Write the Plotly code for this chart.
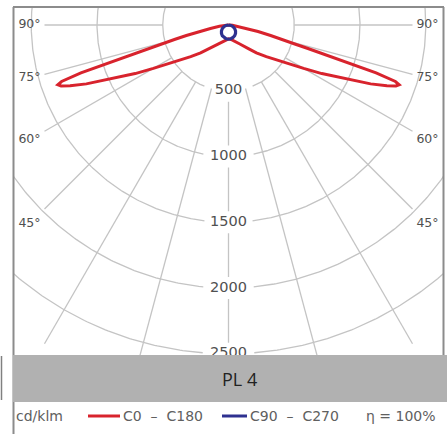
import numpy as np
import plotly.graph_objects as go

# ---------------- data (cd/klm vs angle from nadir, degrees) ----------------
angles_c0 = [0, 10, 20, 30, 40, 45, 50, 55, 57.5, 60, 62.5, 65, 67.5, 69, 70, 70.7,
             71.3, 72, 72.5, 73, 73.5, 74, 75, 76, 77.5, 79, 82, 86, 90]
c0_c180 = [105, 112, 130, 165, 235, 300, 375, 480, 560, 660, 800, 960, 1170, 1290, 1355, 1375,
           1340, 1180, 960, 780, 630, 530, 420, 330, 230, 140, 70, 30, 0]

angles_c90 = [0, 10, 20, 30, 40, 50, 60, 70, 80, 90]
c90_c270 = [108, 106, 101, 94, 83, 70, 54, 37, 19, 0]

ring_values = [500, 1000, 1500, 2000, 2500, 3000]
ring_labels = ["500", "1000", "1500", "2000", "2500"]
radial_angles = [0, 15, 30, 45, 60, 75, 90]
angle_tick_values = [90, 75, 60, 45]
angle_tick_labels = ["90°", "75°", "60°", "45°"]

title_text = "PL 4"
unit_text = "cd/klm"
series_names = ["C0 \u2013 C180", "C90 \u2013 C270"]
eta_text = "\u03b7 = 100%"

# ---------------- geometry / style ----------------
W, H = 447, 434
PL, PR, PT, PB = 13, 444, 7, 355
CX, CY = 228.5, 25.0
SCALE = 0.1315            # px per cd/klm
U = 1.0 / SCALE
GRID = "#c4c4c4"
TXT = "#505050"
LEG = "#606060"
RED = "#d8232d"
BLUE = "#2e3190"
FONT = "DejaVu Sans"
TITLE_FONT = "Open Sans"

xr = [(PL - CX) * U, (PR - CX) * U]
yr = [(CY - PB) * U, (CY - PT) * U]


def fx(px):
    return (px - PL) / (PR - PL)


def fy(py):
    return (PB - py) / (PB - PT)


fig = go.Figure()

# rings
gx, gy = [], []
phi = np.radians(np.arange(0, 360.5, 0.5))
gap = 24 * U
for i, r in enumerate(ring_values):
    x = r * np.sin(phi)
    y = -r * np.cos(phi)
    hole = (y < 0) & (np.abs(x) < gap) & (i < len(ring_labels))
    for xi, yi, h in zip(x, y, hole):
        if h:
            gx.append(None); gy.append(None)
        else:
            gx.append(float(xi)); gy.append(float(yi))
    gx.append(None); gy.append(None)

# radial lines
XCLIP = 184 * U
GV = 11 * U
for a in radial_angles:
    th = np.radians(a)
    if a == 0:
        bounds = ring_values[:len(ring_labels)] + [4000]
        for k in range(len(bounds) - 1):
            r0 = bounds[k] + GV
            r1 = bounds[k + 1] - GV if k + 1 < len(ring_labels) else bounds[k + 1]
            gx += [0.0, 0.0, None]
            gy += [-r0, -r1, None]
        continue
    rmax = min(4000, XCLIP / np.sin(th))
    for sg in (-1, 1):
        gx += [sg * 500 * np.sin(th), sg * rmax * np.sin(th), None]
        gy += [-500 * np.cos(th), -rmax * np.cos(th), None]

fig.add_trace(go.Scatter(x=gx, y=gy, mode="lines", line=dict(color=GRID, width=1.3),
                         hoverinfo="skip", showlegend=False))

# ring labels
fig.add_trace(go.Scatter(x=[0] * len(ring_labels), y=[-v for v in ring_values[:len(ring_labels)]],
                         mode="text", text=ring_labels,
                         textfont=dict(family=FONT, size=14.5, color=TXT),
                         hoverinfo="skip", showlegend=False))

# angle labels
LX = 199 * U
ax_, ay_, at_ = [], [], []
for a, t in zip(angle_tick_values, angle_tick_labels):
    th = np.radians(a)
    yv = -LX / np.tan(th) if a != 90 else 0.0
    for sg in (-1, 1):
        ax_.append(sg * LX); ay_.append(float(yv)); at_.append(t)
fig.add_trace(go.Scatter(x=ax_, y=ay_, mode="text", text=at_,
                         textfont=dict(family=FONT, size=12.5, color=TXT),
                         hoverinfo="skip", showlegend=False))


def curve(angles, vals):
    th = np.radians(np.array(angles, dtype=float))
    v = np.array(vals, dtype=float)
    xl = -(v * np.sin(th))[::-1]
    yl = -(v * np.cos(th))[::-1]
    xrr = v * np.sin(th)
    yrr = -v * np.cos(th)
    return np.concatenate([xl, xrr[1:]]), np.concatenate([yl, yrr[1:]])


x0, y0 = curve(angles_c0, c0_c180)
fig.add_trace(go.Scatter(x=x0, y=y0, mode="lines", line=dict(color=RED, width=3),
                         name=series_names[0], showlegend=False))
x1, y1 = curve(angles_c90, c90_c270)
fig.add_trace(go.Scatter(x=x1, y=y1, mode="lines", line=dict(color=BLUE, width=3.2),
                         name=series_names[1], showlegend=False))

LEG_Y = 416
shapes = [
    # frame
    dict(type="line", xref="paper", yref="paper", x0=fx(PL), x1=fx(PR), y0=fy(PT), y1=fy(PT),
         line=dict(color="#8c8c8c", width=2), layer="above"),
    dict(type="line", xref="paper", yref="paper", x0=fx(PL + 0.5), x1=fx(PL + 0.5), y0=fy(PT), y1=fy(H),
         line=dict(color="#8c8c8c", width=2), layer="above"),
    dict(type="line", xref="paper", yref="paper", x0=fx(PR - 0.5), x1=fx(PR - 0.5), y0=fy(PT), y1=fy(PB),
         line=dict(color="#8c8c8c", width=2), layer="above"),
    # band
    dict(type="rect", xref="paper", yref="paper", x0=fx(PL), x1=fx(W + 2), y0=fy(355), y1=fy(402),
         fillcolor="#b1b1b1", line=dict(width=0), layer="above"),
    dict(type="line", xref="paper", yref="paper", x0=fx(1.5), x1=fx(1.5), y0=fy(356), y1=fy(400),
         line=dict(color="#808080", width=1.5), layer="above"),
    # legend samples
    dict(type="line", xref="paper", yref="paper", x0=fx(88), x1=fx(120), y0=fy(LEG_Y), y1=fy(LEG_Y),
         line=dict(color=RED, width=3), layer="above"),
    dict(type="line", xref="paper", yref="paper", x0=fx(222), x1=fx(247), y0=fy(LEG_Y), y1=fy(LEG_Y),
         line=dict(color=BLUE, width=3), layer="above"),
]

ann_font = dict(family=FONT, size=14, color=LEG)
annotations = [
    dict(text=title_text, xref="paper", yref="paper", x=fx(240), y=fy(378.5), xanchor="center",
         yanchor="middle", showarrow=False, font=dict(family=TITLE_FONT, size=18, color="#222222")),
    dict(text=unit_text, xref="paper", yref="paper", x=fx(14), y=fy(LEG_Y), xanchor="left",
         yanchor="middle", showarrow=False, font=ann_font),
    dict(text=series_names[0].replace(" ", "\u00a0\u00a0"), xref="paper", yref="paper", x=fx(121), y=fy(LEG_Y),
         xanchor="left", yanchor="middle", showarrow=False, font=ann_font),
    dict(text=series_names[1].replace(" ", "\u00a0\u00a0"), xref="paper", yref="paper", x=fx(248), y=fy(LEG_Y),
         xanchor="left", yanchor="middle", showarrow=False, font=ann_font),
    dict(text=eta_text, xref="paper", yref="paper", x=fx(438), y=fy(LEG_Y), xanchor="right",
         yanchor="middle", showarrow=False, font=ann_font),
]

fig.update_layout(
    width=W, height=H,
    margin=dict(l=PL, r=W - PR, t=PT, b=H - PB, pad=0),
    paper_bgcolor="white", plot_bgcolor="white",
    xaxis=dict(range=xr, visible=False, fixedrange=True),
    yaxis=dict(range=yr, visible=False, fixedrange=True),
    shapes=shapes, annotations=annotations, showlegend=False,
)

fig.write_html("out.html", config=dict(displayModeBar=False),
               post_script="document.body.style.margin='0';")
